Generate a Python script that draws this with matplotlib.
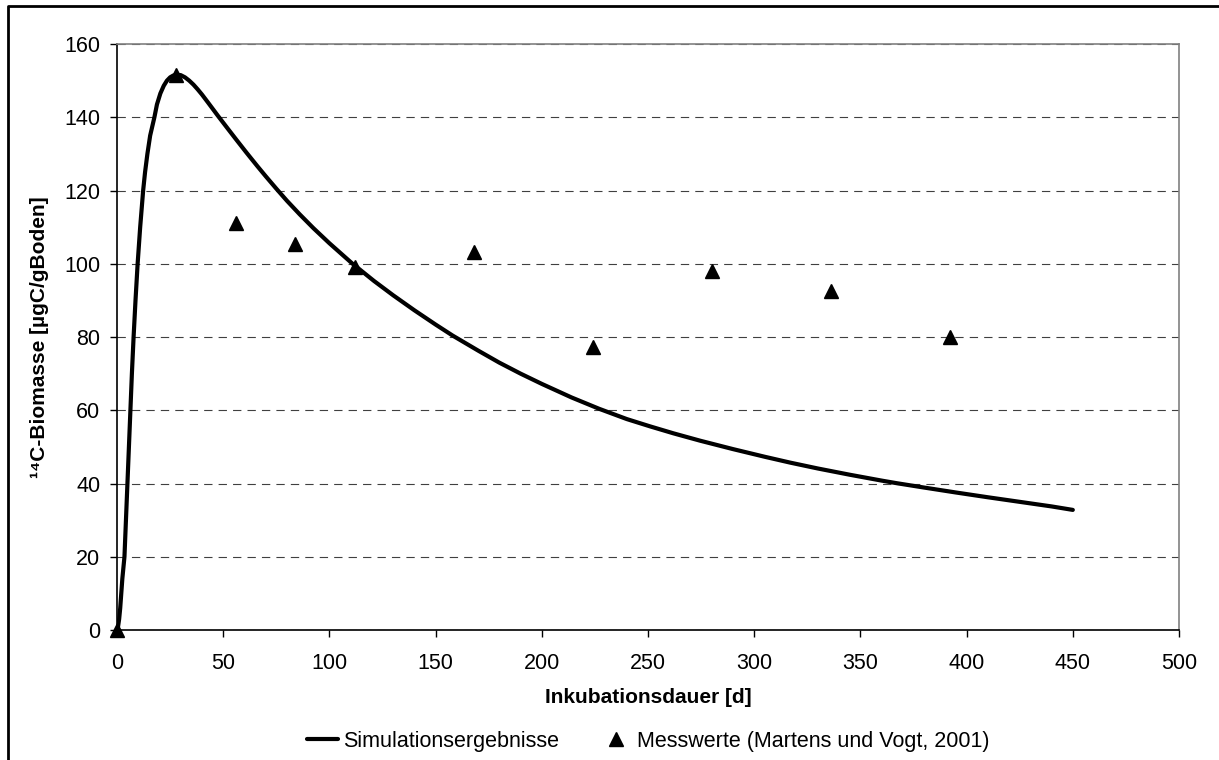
import numpy as np
import matplotlib.pyplot as plt
from matplotlib.lines import Line2D

plt.rcParams['font.family'] = ['Liberation Sans', 'DejaVu Sans']

# Simulationsergebnisse
sim_t = [0, 0.5, 1, 1.5, 2, 2.5, 3, 3.5, 4.2, 4.9, 5.6, 6.3, 7, 7.8, 8.7, 9.7, 10.9,
         12.3, 13.2, 14.3, 15.6, 17.6, 18.8, 20.4, 22, 23.5, 25, 26.5, 28.2, 30, 32,
         34, 36, 38, 40, 43, 47.5, 52, 56, 61, 66, 70, 75, 80, 86, 92.5, 100, 110.5,
         121, 130, 140, 150, 158, 170, 180, 190, 200, 214, 227, 240, 251, 262, 274.5,
         290, 305, 317, 330, 345, 360, 367, 380, 395, 410, 425, 440, 450]
sim_c = [0, 1, 3, 6, 10, 14, 17, 20, 30, 40, 50, 60, 70, 80, 90, 100, 110,
         120, 125, 130, 135, 140, 143.5, 146.5, 148.6, 150, 150.9, 151.4, 151.6, 151.5, 150.9,
         150, 148.9, 147.6, 146.2, 143.9, 140.4, 137, 134, 130.3, 126.7, 123.9, 120.5, 117.2, 113.5,
         109.7, 105.6, 100.2, 95.3, 91.4, 87.3, 83.4, 80.4, 76.3, 73, 70, 67.2, 63.5, 60.4, 57.6,
         55.6, 53.7, 51.7, 49.4, 47.3, 45.7, 44.1, 42.4, 40.8, 40.1, 38.9, 37.55, 36.25, 35, 33.75, 32.8]

# Messwerte (Martens und Vogt, 2001)
mess_t = [0, 28, 56, 84, 112, 168, 224, 280, 336, 392]
mess_c = [0, 151.5, 111, 105.3, 99, 103.3, 77.2, 98, 92.6, 80]

fig = plt.figure(figsize=(12.19, 7.6), dpi=100)
ax = fig.add_axes([0.096, 0.171, 0.8712, 0.7711])

ax.plot(sim_t, sim_c, color='black', linewidth=3, label='Simulationsergebnisse',
        solid_capstyle='round', solid_joinstyle='round', zorder=3)
ax.plot(mess_t, mess_c, linestyle='none', marker='^', markersize=10.5, color='black',
        label='Messwerte (Martens und Vogt, 2001)', zorder=4, clip_on=False)

ax.set_xlim(0, 500)
ax.set_ylim(0, 160)
ax.set_xticks(np.arange(0, 501, 50))
ax.set_yticks(np.arange(0, 161, 20))
ax.yaxis.grid(True, linestyle=(0, (7.5, 5.5)), color='#404040', linewidth=0.8)
ax.set_axisbelow(True)

for s in ['top', 'right']:
    ax.spines[s].set_color('#808080')
    ax.spines[s].set_linewidth(1.2)
for s in ['left', 'bottom']:
    ax.spines[s].set_color('black')
    ax.spines[s].set_linewidth(1.2)

ax.tick_params(axis='both', labelsize=15.5, direction='out', length=5, width=1,
               colors='black')
ax.tick_params(axis='x', pad=11.5)
ax.tick_params(axis='y', pad=7)

ax.set_xlabel('Inkubationsdauer [d]', fontsize=15, fontweight='bold', labelpad=10)
ax.set_ylabel('¹⁴C-Biomasse [µgC/gBoden]', fontsize=15, fontweight='bold', labelpad=11)

ax.legend(loc='center', bbox_to_anchor=(0.5, -0.19), ncol=2, frameon=False,
          fontsize=15.5, handlelength=1.45, handletextpad=0.25, columnspacing=1.9,
          borderpad=0)

# Rahmen (nur oben und links sichtbar)
fig.add_artist(Line2D([8 / 1219, 8 / 1219, 1], [0, 1 - 6 / 760, 1 - 6 / 760],
                      transform=fig.transFigure, color='black', linewidth=2))

plt.savefig('out.png', dpi=100)
